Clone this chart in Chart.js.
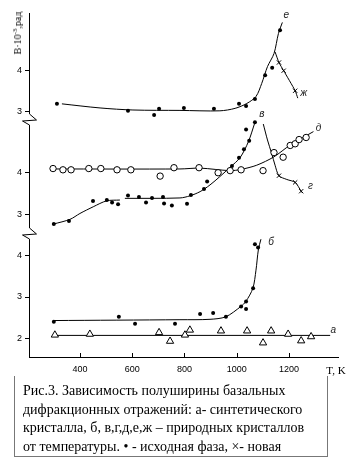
<!DOCTYPE html>
<html><head><meta charset="utf-8">
<script src="https://cdn.jsdelivr.net/npm/chart.js@4"></script>
<style>
html,body{margin:0;padding:0;background:#fff;}
#wrap{position:relative;width:361px;height:464px;overflow:hidden;background:#fff;}
#c{position:absolute;left:0;top:0;}
.ylab{position:absolute;left:18px;top:33px;transform:translate(-50%,-50%) rotate(-90deg);font:10px "Liberation Serif";white-space:nowrap;color:#000;line-height:12px;}
.ylab sup{font-size:7px;vertical-align:4px;line-height:0;}
.xlab{position:absolute;left:336px;top:370px;transform:translate(-50%,-50%);font:11px "Liberation Serif";white-space:nowrap;color:#000;}
.cap{position:absolute;left:14px;top:376px;width:314px;height:81px;box-sizing:border-box;border:1px solid #777;border-top:none;padding:6px 0 0 8px;font:14px/18.7px "Liberation Serif";white-space:nowrap;color:#000;}
</style></head>
<body>
<div id="wrap">
<canvas id="c" width="361" height="464"></canvas>
<div class="ylab">B·10<sup>-3</sup>,рад</div>
<div class="xlab">T, K</div>
<div class="cap">Рис.3. Зависимость полуширины базальных<br>дифракционных отражений: а- синтетического<br>кристалла, б, в,г,д,е,ж – природных кристаллов<br>от температуры. • - исходная фаза, ×- новая</div>
</div>
<script>
// ---- tick labels ----
const xTicks = [400, 600, 800, 1000, 1200];
const topTicks = [3, 4];
const midTicks = [3, 4];
const botTicks = [2, 3, 4];

// ---- top panel: е (dots, curve), ж (crosses) ----
const eLineT = [331, 477, 603, 783, 936, 994, 1039, 1074, 1096, 1118, 1143, 1160, 1175];
const eLineB = [3.19, 3.09, 3.04, 3.03, 3.02, 3.08, 3.20, 3.37, 3.69, 4.10, 4.42, 4.91, 5.18];
const eDotT = [312, 584, 684, 703, 798, 913, 1009, 1036, 1070, 1109, 1136, 1166];
const eDotB = [3.19, 3.02, 2.92, 3.07, 3.09, 3.07, 3.19, 3.14, 3.31, 3.89, 4.07, 4.99];
const zhLineT = [1147, 1162, 1180, 1224, 1234];
const zhLineB = [4.46, 4.20, 4.00, 3.51, 3.33];
const zhCrossT = [1162, 1180, 1224];
const zhCrossB = [4.20, 4.00, 3.51];

// ---- middle panel: в (dots), г (crosses), д (open circles) ----
const dLineT = [297, 783, 860, 975, 1017, 1077, 1143, 1205, 1294];
const dLineB = [4.08, 4.08, 4.10, 4.04, 4.07, 4.17, 4.37, 4.65, 4.97];
const dCircT = [297, 335, 366, 434, 480, 542, 595, 707, 760, 856, 929, 975, 1017, 1101, 1143, 1178, 1205, 1224, 1239, 1266];
const dCircB = [4.09, 4.06, 4.06, 4.09, 4.09, 4.06, 4.06, 3.91, 4.11, 4.11, 3.99, 4.04, 4.06, 4.04, 4.47, 4.36, 4.64, 4.68, 4.78, 4.83];
const vLineT = [300, 362, 400, 451, 502, 553, 562, 572, 783, 821, 860, 898, 936, 975, 1013, 1045, 1070];
const vLineB = [2.77, 2.88, 3.02, 3.18, 3.32, 3.34, null, 3.38, 3.39, 3.44, 3.54, 3.70, 3.90, 4.12, 4.35, 4.73, 5.19];
const vDotT = [300, 358, 450, 503, 523, 546, 584, 626, 653, 676, 718, 722, 752, 810, 825, 875, 887, 982, 1009, 1028, 1048, 1036, 1070];
const vDotB = [2.77, 2.84, 3.32, 3.34, 3.28, 3.24, 3.45, 3.41, 3.28, 3.39, 3.41, 3.26, 3.21, 3.25, 3.46, 3.60, 3.78, 4.15, 4.35, 4.55, 4.75, 5.02, 5.19];
const gLineT = [1102, 1118, 1134, 1147, 1162, 1192, 1224, 1247, 1252];
const gLineB = [5.15, 4.77, 4.45, 4.17, 3.92, 3.83, 3.76, 3.55, 3.51];
const gCrossT = [1162, 1224, 1247];
const gCrossB = [3.92, 3.76, 3.55];

// ---- bottom panel: а (triangles), б (dots) ----
const bLineT = [300, 783, 898, 958, 1016, 1035, 1062, 1074, 1083, 1093];
const bLineB = [2.43, 2.45, 2.46, 2.52, 2.77, 2.89, 3.21, 3.65, 4.14, 4.40];
const bDotT = [300, 549, 611, 764, 860, 910, 959, 1017, 1036, 1036, 1063, 1070, 1082];
const bDotB = [2.40, 2.52, 2.35, 2.35, 2.59, 2.61, 2.52, 2.77, 2.89, 2.71, 3.21, 4.28, 4.20];
const aLineT = [300, 1358];
const aLineB = [2.07, 2.07];
const aTriT = [304, 438, 703, 745, 802, 821, 940, 1040, 1101, 1132, 1197, 1247, 1285];
const aTriB = [2.08, 2.10, 2.14, 1.93, 2.08, 2.20, 2.18, 2.18, 1.89, 2.18, 2.10, 1.94, 2.04];

const pts = (T, B) => T.map((t, i) => ({x: t, y: B[i]}));

Chart.defaults.font.family = '"Liberation Sans", Arial, sans-serif';
Chart.defaults.color = '#000';

function lineDs(T, B, axis, label, tension) {
  return {label, data: pts(T, B), yAxisID: axis, showLine: true, borderColor: '#000', borderWidth: 1,
    pointRadius: 0, fill: false, tension: tension, spanGaps: false, order: 2, clip: false};
}
function markDs(T, B, axis, style) {
  const base = {data: pts(T, B), yAxisID: axis, showLine: false, order: 1, clip: false};
  if (style === 'dot') return Object.assign(base, {pointStyle: 'circle', pointRadius: 2, backgroundColor: '#000', borderColor: '#000', borderWidth: 0});
  if (style === 'circ') return Object.assign(base, {pointStyle: 'circle', pointRadius: 3.2, backgroundColor: '#fff', borderColor: '#000', borderWidth: 1});
  if (style === 'tri') return Object.assign(base, {pointStyle: 'triangle', pointRadius: 4.2, backgroundColor: '#fff', borderColor: '#000', borderWidth: 1});
  return Object.assign(base, {pointStyle: 'crossRot', pointRadius: 3, backgroundColor: '#000', borderColor: '#000', borderWidth: 1});
}

const datasets = [
  lineDs(eLineT, eLineB, 'yTop', 'е', 0.3),
  markDs(eDotT, eDotB, 'yTop', 'dot'),
  lineDs(zhLineT, zhLineB, 'yTop', 'ж', 0.2),
  markDs(zhCrossT, zhCrossB, 'yTop', 'x'),
  lineDs(dLineT, dLineB, 'yMid', 'д', 0.3),
  markDs(dCircT, dCircB, 'yMid', 'circ'),
  lineDs(vLineT, vLineB, 'yMid', 'в', 0.3),
  markDs(vDotT, vDotB, 'yMid', 'dot'),
  lineDs(gLineT, gLineB, 'yMid', 'г', 0.3),
  markDs(gCrossT, gCrossB, 'yMid', 'x'),
  lineDs(bLineT, bLineB, 'yBot', 'б', 0.3),
  markDs(bDotT, bDotB, 'yBot', 'dot'),
  lineDs(aLineT, aLineB, 'yBot', 'а', 0),
  markDs(aTriT, aTriB, 'yBot', 'tri')
];

// curve label offsets (px) from the last point of each line
const labelOffsets = {'е': [4, -7], 'ж': [6, -5], 'в': [7, -8], 'д': [5, -3], 'г': [8, -7], 'б': [10, 3], 'а': [3, -5]};

const decor = {
  id: 'decor',
  afterDraw(chart) {
    const {ctx, scales} = chart;
    const x = scales.x, yT = scales.yTop, yM = scales.yMid, yB = scales.yBot;
    const x0 = Math.round(x.left) + 0.5;
    ctx.save();
    ctx.strokeStyle = '#000';
    ctx.lineWidth = 1;
    ctx.beginPath();
    ctx.moveTo(x0, yT.top);
    const zig = c => {
      ctx.lineTo(x0, c - 5);
      ctx.lineTo(x0 + 7, c + 1);
      ctx.lineTo(x0 - 7, c + 2);
      ctx.lineTo(x0, c + 6);
    };
    zig(yT.bottom);
    zig(yM.bottom);
    ctx.lineTo(x0, yB.bottom);
    ctx.stroke();
    // inward x ticks
    ctx.beginPath();
    xTicks.forEach(v => {
      const px = Math.round(x.getPixelForValue(v)) + 0.5;
      ctx.moveTo(px, x.top);
      ctx.lineTo(px, x.top - 4);
    });
    ctx.stroke();
    // curve labels
    ctx.fillStyle = '#222';
    ctx.font = 'italic 10px "Liberation Sans", Arial, sans-serif';
    ctx.textAlign = 'center';
    ctx.textBaseline = 'middle';
    chart.data.datasets.forEach((ds, i) => {
      if (!ds.label || !labelOffsets[ds.label]) return;
      const meta = chart.getDatasetMeta(i);
      const p = meta.data[meta.data.length - 1];
      const o = labelOffsets[ds.label];
      ctx.fillText(ds.label, p.x + o[0], p.y + o[1]);
    });
    ctx.restore();
  }
};

function yAxis(min, max, ticks, weight, sw) {
  return {
    type: 'linear', position: 'left', stack: 'y', stackWeight: sw, weight: weight,
    min, max,
    afterBuildTicks: s => { s.ticks = ticks.map(v => ({value: v})); },
    afterFit: s => { s.width = 29; },
    border: {display: false},
    grid: {display: true, drawOnChartArea: false, drawTicks: true, tickLength: 4, color: '#000', lineWidth: 1},
    ticks: {color: '#000', font: {size: 9}, padding: 3, callback: v => String(v)}
  };
}

new Chart(document.getElementById('c'), {
  type: 'scatter',
  data: {datasets},
  options: {
    responsive: false,
    animation: false,
    events: [],
    layout: {padding: {top: 13, right: 23, left: 0, bottom: 0}},
    plugins: {legend: {display: false}, tooltip: {enabled: false}},
    scales: {
      x: {
        type: 'linear', position: 'bottom', min: 205, max: 1388,
        afterBuildTicks: s => { s.ticks = xTicks.map(v => ({value: v})); },
        afterFit: s => { s.height = 464 - 357; },
        border: {display: true, color: '#000', width: 1},
        grid: {display: false, drawTicks: false},
        ticks: {color: '#000', font: {size: 9}, padding: 7, maxRotation: 0, callback: v => String(v)}
      },
      yTop: yAxis(2.82, 5.41, topTicks, 3, 106),
      yMid: yAxis(2.555, 5.27, midTicks, 2, 114),
      yBot: yAxis(1.547, 4.55, botTicks, 1, 124)
    }
  },
  plugins: [decor]
});
</script>
</body></html>
